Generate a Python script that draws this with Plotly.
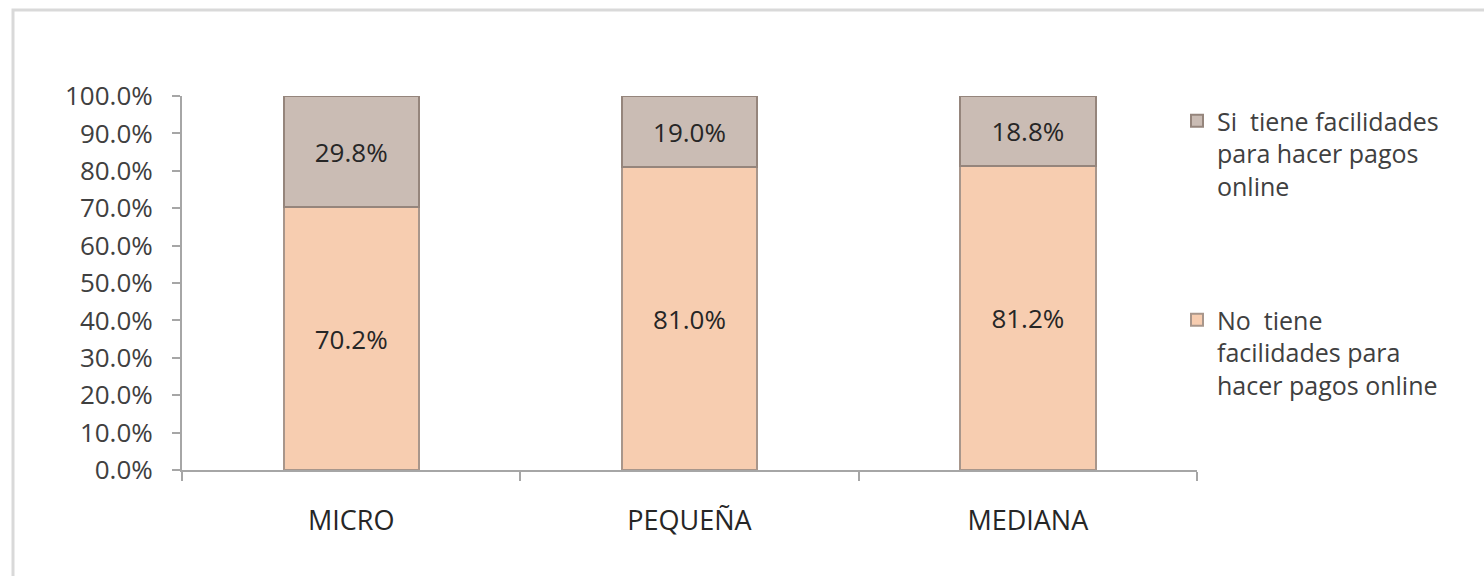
import plotly.graph_objects as go

categories = ["MICRO", "PEQUEÑA", "MEDIANA"]
no_tiene = [0.702, 0.810, 0.812]
si_tiene = [0.298, 0.190, 0.188]
name_no = "No  tiene<br>facilidades para<br>hacer pagos online"
name_si = "Si  tiene facilidades<br>para hacer pagos<br>online"

FONT = "Open Sans"
L, R, T, B = 182, 287, 96, 106
W, H = 1484, 576
pw, ph = W - L - R, H - T - B

fig = go.Figure()
fig.add_trace(go.Bar(
    x=categories, y=no_tiene, name=name_no, width=0.4,
    marker=dict(color="#F7CDB0", line=dict(color="#A8968B", width=2)),
    texttemplate="%{y:.1%}", textposition="inside", insidetextanchor="middle",
    textangle=0, textfont=dict(family=FONT, size=26, color="#262626"),
    legend="legend2",
))
fig.add_trace(go.Bar(
    x=categories, y=si_tiene, name=name_si, width=0.4,
    marker=dict(color="#CABCB4", line=dict(color="#95857C", width=2)),
    texttemplate="%{y:.1%}", textposition="inside", insidetextanchor="middle",
    textangle=0, textfont=dict(family=FONT, size=26, color="#262626"),
    legend="legend",
))

def px_x(p):
    return (p - L) / pw

def px_y(p):
    return (H - B - p) / ph

fig.add_shape(type="rect", xref="paper", yref="paper",
              x0=px_x(13), x1=px_x(1600), y0=px_y(700), y1=px_y(10),
              line=dict(color="#D9D9D9", width=3), fillcolor="rgba(0,0,0,0)", layer="below")

legend_common = dict(
    xanchor="left", yanchor="top", valign="top",
    font=dict(family=FONT, size=25, color="#404040"),
    bgcolor="rgba(0,0,0,0)", itemclick=False, itemdoubleclick=False,
)
fig.update_layout(
    width=W, height=H,
    margin=dict(l=L, r=R, t=T, b=B),
    paper_bgcolor="white", plot_bgcolor="white",
    barmode="stack",
    showlegend=True,
    legend=dict(x=px_x(1177), y=px_y(98), **legend_common),
    legend2=dict(x=px_x(1177), y=px_y(297), **legend_common),
    font=dict(family=FONT, color="#404040"),
    xaxis=dict(
        showline=True, linecolor="#A6A6A6", linewidth=2,
        ticks="outside", tickson="boundaries", ticklen=9, tickcolor="#A6A6A6", tickwidth=2,
        tickfont=dict(family=FONT, size=27, color="#262626"),
        ticklabelstandoff=26, showgrid=False,
    ),
    yaxis=dict(
        range=[0, 1], dtick=0.1, tickformat=".1%",
        showline=True, linecolor="#A6A6A6", linewidth=2,
        ticks="outside", ticklen=8, tickcolor="#A6A6A6", tickwidth=2,
        tickfont=dict(family=FONT, size=26, color="#404040"),
        ticklabelstandoff=14, showgrid=False, zeroline=False,
    ),
)

fig.write_html("out.html")
